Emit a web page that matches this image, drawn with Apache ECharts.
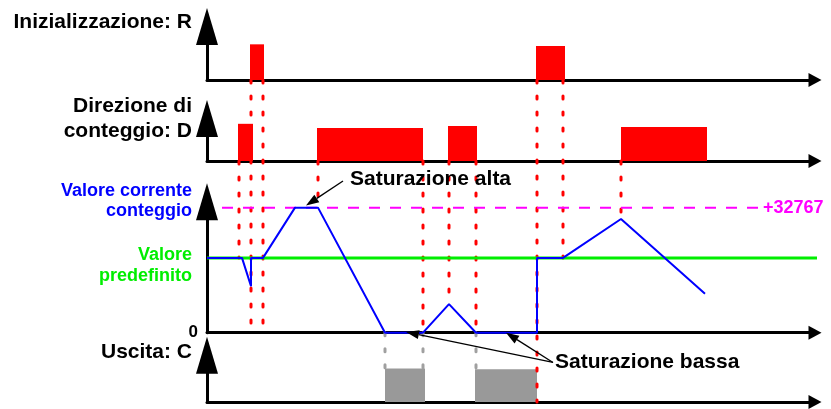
<!DOCTYPE html>
<html>
<head>
<meta charset="utf-8">
<script src="https://cdn.jsdelivr.net/npm/echarts@6/dist/echarts.min.js"></script>
<style>
  html, body { margin: 0; padding: 0; background: #fff; }
  #chart { width: 831px; height: 409px; }
</style>
</head>
<body>
<div id="chart"></div>
<script>
// asse dei tempi comune a tutti i pannelli
const T_MAX = 608;

// impulsi: [inizio, fine, livello]
const rPulses = [[43, 57, 1.0], [329, 358, 0.95]];
const dPulses = [[31, 46, 1.05], [110, 216, 0.93], [241, 270, 0.99], [414, 500, 0.96]];
const cPulses = [[178, 218, 1.0], [268, 330, 0.98]];

// valore corrente del contatore: [t, valore]
const counter = [
  [0, 19600], [35, 19600], [44, 12200], [44, 19600], [56, 19600],
  [88, 32767], [111, 32767], [178, 0], [216, 0], [242, 7500], [269, 0],
  [330, 0], [330, 19600], [356, 19600], [414, 29800], [498, 10200]
];
const PRESET = 19600;
const MAX_VAL = 32767;
const presetLine = [[0, PRESET], [624, PRESET]];
const maxLine = [[15, MAX_VAL], [551, MAX_VAL]];

// linee di riferimento verticali: [t, pannello da, valore da, pannello a, valore a]
const redGuides = [
  [32, 1, 0, 2, PRESET],
  [44, 0, 0, 2, 0],
  [56, 0, 0, 2, 0],
  [111, 1, 0, 2, MAX_VAL],
  [216, 1, 0, 2, 0],
  [242, 1, 0, 2, 7500],
  [269, 1, 0, 2, 0],
  [330, 0, 0, 3, 0],
  [356, 0, 0, 2, PRESET],
  [414, 1, 0, 2, 29800]
];
const grayGuides = [[178, 2, 0, 3, 1], [216, 2, 0, 3, 1], [269, 2, 0, 3, 1]];

// annotazioni nel pannello del contatore: frecce [t0, v0, t1, v1], testi [t, v]
const arrows = [[136, 39750, 99, 33300], [346, -7800, 199, 200], [346, -7800, 299, 0]];
const notePos = [[143, 40270], [348, -7680]];
const noteText = ['Saturazione alta', 'Saturazione bassa'];

const FONT = '"Liberation Sans", Arial, sans-serif';

const grids = [
  { left: 207, right: 16, top: 26.5, height: 53.5 },
  { left: 207, right: 16, top: 118.5, height: 42.5 },
  { left: 207, right: 16, top: 201.8, height: 130.9 },
  { left: 207, right: 16, top: 355.2, height: 46.8 }
];
const yMax = [1.5, 1.2, 34300, 1.4];

const chart = echarts.init(document.getElementById('chart'));

function pulseSeries(data, gi, color) {
  return {
    type: 'custom', xAxisIndex: gi, yAxisIndex: gi, data: data,
    encode: { x: [0, 1], y: 2 }, z: 2,
    renderItem: function (params, api) {
      const p0 = api.coord([api.value(0), api.value(2)]);
      const p1 = api.coord([api.value(1), 0]);
      return {
        type: 'rect',
        shape: { x: p0[0], y: p0[1], width: p1[0] - p0[0], height: p1[1] - p0[1] },
        style: { fill: color }
      };
    }
  };
}

function guideSeries(data, color) {
  return {
    type: 'custom', xAxisIndex: 0, yAxisIndex: 0, data: data,
    encode: { x: 0 }, z: 3, silent: true,
    renderItem: function (params, api) {
      const t = api.value(0);
      const a = chart.convertToPixel({ gridIndex: api.value(1) }, [t, api.value(2)]);
      const b = chart.convertToPixel({ gridIndex: api.value(3) }, [t, api.value(4)]);
      return {
        type: 'line',
        shape: { x1: a[0], y1: a[1], x2: b[0], y2: b[1] },
        style: { stroke: color, lineWidth: 3, lineDash: [3, 13], lineCap: 'round' }
      };
    }
  };
}

const option = {
  animation: false,
  backgroundColor: '#fff',
  grid: grids.map(g => Object.assign({ outerBoundsMode: 'none' }, g)),
  xAxis: grids.map((g, i) => ({
    gridIndex: i, type: 'value', min: 0, max: T_MAX,
    axisLine: { show: true, lineStyle: { color: '#000', width: 3 }, symbol: ['none', 'triangle'], symbolSize: [14, 13] },
    axisTick: { show: false }, axisLabel: { show: false }, splitLine: { show: false }
  })),
  yAxis: yMax.map((m, i) => ({
    gridIndex: i, type: 'value', min: 0, max: m, interval: m,
    axisLine: { show: true, lineStyle: { color: '#000', width: 3 }, symbol: ['none', 'triangle'], symbolSize: [22, 37] },
    axisTick: { show: false }, splitLine: { show: false },
    axisLabel: i === 2 ? {
      show: true, formatter: v => (v === 0 ? '0' : ''), color: '#000',
      fontSize: 17, fontWeight: 'bold', fontFamily: FONT, margin: 9, padding: [0, 0, 5, 0]
    } : { show: false }
  })),
  series: [
    pulseSeries(rPulses, 0, '#ff0000'),
    pulseSeries(dPulses, 1, '#ff0000'),
    pulseSeries(cPulses, 3, '#999999'),
    guideSeries(redGuides, '#ff0000'),
    guideSeries(grayGuides, '#a0a0a0'),
    {
      type: 'line', xAxisIndex: 2, yAxisIndex: 2, data: presetLine, symbol: 'none', clip: false, z: 3,
      lineStyle: { color: '#00ee00', width: 3 }
    },
    {
      type: 'line', xAxisIndex: 2, yAxisIndex: 2, data: maxLine, symbol: 'none', clip: false, z: 3,
      lineStyle: { color: '#ff00ff', width: 2, type: [11, 10] },
      endLabel: {
        show: true, formatter: p => '+' + p.value[1], color: '#ff00ff',
        fontSize: 18, fontWeight: 'bold', fontFamily: FONT, distance: 5
      }
    },
    {
      type: 'line', xAxisIndex: 2, yAxisIndex: 2, data: counter, symbol: 'none', clip: false, z: 5,
      lineStyle: { color: '#0000ff', width: 2 }
    },
    {
      type: 'custom', xAxisIndex: 2, yAxisIndex: 2, data: arrows, z: 6, silent: true,
      renderItem: function (params, api) {
        const a = api.coord([api.value(0), api.value(1)]);
        const b = api.coord([api.value(2), api.value(3)]);
        const ang = Math.atan2(b[1] - a[1], b[0] - a[0]);
        const L = 13, W = 4.5;
        const bx = b[0] - L * Math.cos(ang), by = b[1] - L * Math.sin(ang);
        const nx = -Math.sin(ang) * W, ny = Math.cos(ang) * W;
        return {
          type: 'group',
          children: [
            { type: 'line', shape: { x1: a[0], y1: a[1], x2: bx, y2: by }, style: { stroke: '#000', lineWidth: 1.3 } },
            { type: 'polygon', shape: { points: [[b[0], b[1]], [bx + nx, by + ny], [bx - nx, by - ny]] }, style: { fill: '#000' } }
          ]
        };
      }
    },
    {
      type: 'custom', xAxisIndex: 2, yAxisIndex: 2, data: notePos, z: 7, silent: true,
      renderItem: function (params, api) {
        const p = api.coord([api.value(0), api.value(1)]);
        return {
          type: 'text', x: p[0], y: p[1],
          style: {
            text: noteText[params.dataIndex], fill: '#000',
            font: 'bold 21px ' + FONT, align: 'left', verticalAlign: 'middle'
          }
        };
      }
    }
  ],
  graphic: [
    { type: 'text', x: 192, y: 22, style: { text: 'Inizializzazione: R', fill: '#000', font: 'bold 21px ' + FONT, align: 'right', verticalAlign: 'middle' } },
    { type: 'text', x: 192, y: 119, style: { text: 'Direzione di\nconteggio: D', fill: '#000', font: 'bold 21px ' + FONT, lineHeight: 25, align: 'right', verticalAlign: 'middle' } },
    { type: 'text', x: 192, y: 201.5, style: { text: 'Valore corrente\nconteggio', fill: '#0000ff', font: 'bold 18px ' + FONT, lineHeight: 20, align: 'right', verticalAlign: 'middle' } },
    { type: 'text', x: 192, y: 266, style: { text: 'Valore\npredefinito', fill: '#00ee00', font: 'bold 18px ' + FONT, lineHeight: 21, align: 'right', verticalAlign: 'middle' } },
    { type: 'text', x: 192, y: 352, style: { text: 'Uscita: C', fill: '#000', font: 'bold 21px ' + FONT, align: 'right', verticalAlign: 'middle' } }
  ]
};

chart.setOption(option);
</script>
</body>
</html>
